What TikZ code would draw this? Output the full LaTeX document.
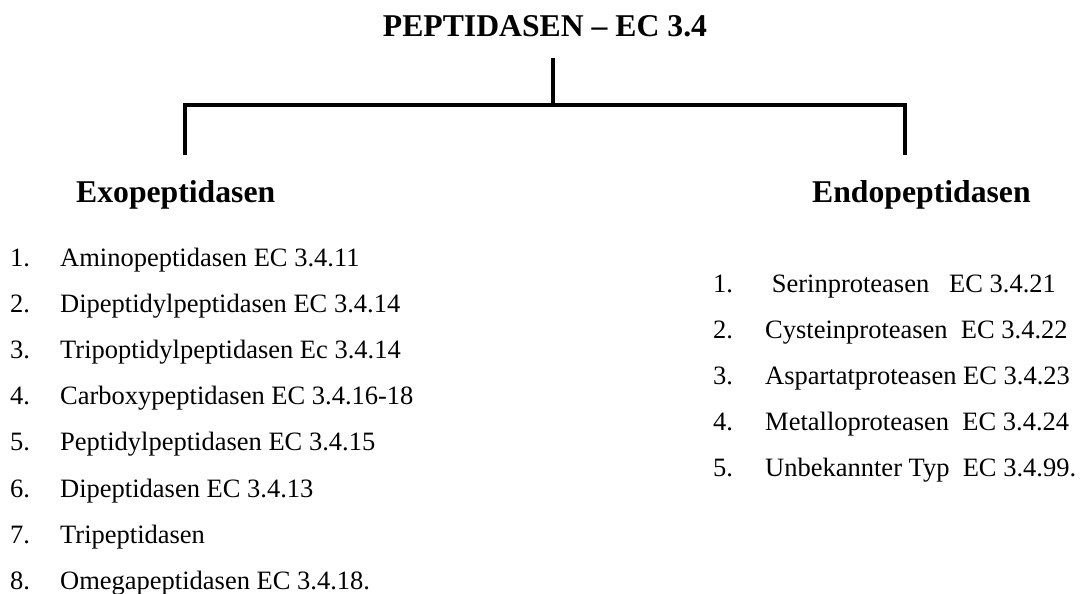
\documentclass[tikz,border=0pt]{standalone}
\usepackage{fontspec}
\setmainfont{Liberation Serif}
\begin{document}
\begin{tikzpicture}[x=1pt,y=-1pt,
  titletxt/.style={anchor=base,inner sep=0pt,font=\fontsize{31.7}{36}\selectfont\bfseries},
  headtxt/.style={anchor=base west,inner sep=0pt,font=\fontsize{31.7}{36}\selectfont\bfseries},
  itemtxt/.style={anchor=base west,inner sep=0pt,font=\fontsize{26.5}{30}\selectfont},
  tree/.style={line width=4.5pt,line join=miter}]
\useasboundingbox (0,0) rectangle (1082,594);
\node[titletxt] (title) at (545,37) {PEPTIDASEN – EC 3.4};
\coordinate (stemtop) at (553,58);
\coordinate (junc) at (553,105);
\coordinate (lcorner) at (185,105);
\coordinate (rcorner) at (905,105);
\coordinate (lend) at (185,155);
\coordinate (rend) at (905,155);
\draw[tree] (stemtop) -- (junc);
\draw[tree] (lend) -- (lcorner) -- (rcorner) -- (rend);
\node[headtxt] (exo) at (76,202) {Exopeptidasen};
\node[headtxt] (endo) at (812,202) {Endopeptidasen};
% left list
\foreach \n/\t [count=\i from 0] in {1/Aminopeptidasen EC 3.4.11,2/Dipeptidylpeptidasen EC 3.4.14,3/Tripoptidylpeptidasen Ec 3.4.14,4/Carboxypeptidasen EC 3.4.16-18,5/Peptidylpeptidasen EC 3.4.15,6/Dipeptidasen EC 3.4.13,7/Tripeptidasen,8/Omegapeptidasen EC 3.4.18.}{
  \node[itemtxt] (ln\n) at (10,266+46.2*\i) {\n.};
  \node[itemtxt] (lt\n) at (60,266+46.2*\i) {\t};
}
% right list
\node[itemtxt] (rn1) at (713,292) {1.};
\node[itemtxt] (rt1) at (765,292) {\ Serinproteasen\ \ \ EC 3.4.21};
\node[itemtxt] (rn2) at (713,338) {2.};
\node[itemtxt] (rt2) at (765,338) {Cysteinproteasen\ \ EC 3.4.22};
\node[itemtxt] (rn3) at (713,384) {3.};
\node[itemtxt] (rt3) at (765,384) {Aspartatproteasen EC 3.4.23};
\node[itemtxt] (rn4) at (713,430) {4.};
\node[itemtxt] (rt4) at (765,430) {Metalloproteasen\ \ EC 3.4.24};
\node[itemtxt] (rn5) at (713,476) {5.};
\node[itemtxt] (rt5) at (765,476) {Unbekannter Typ\ \ EC 3.4.99.};
\end{tikzpicture}
\end{document}
